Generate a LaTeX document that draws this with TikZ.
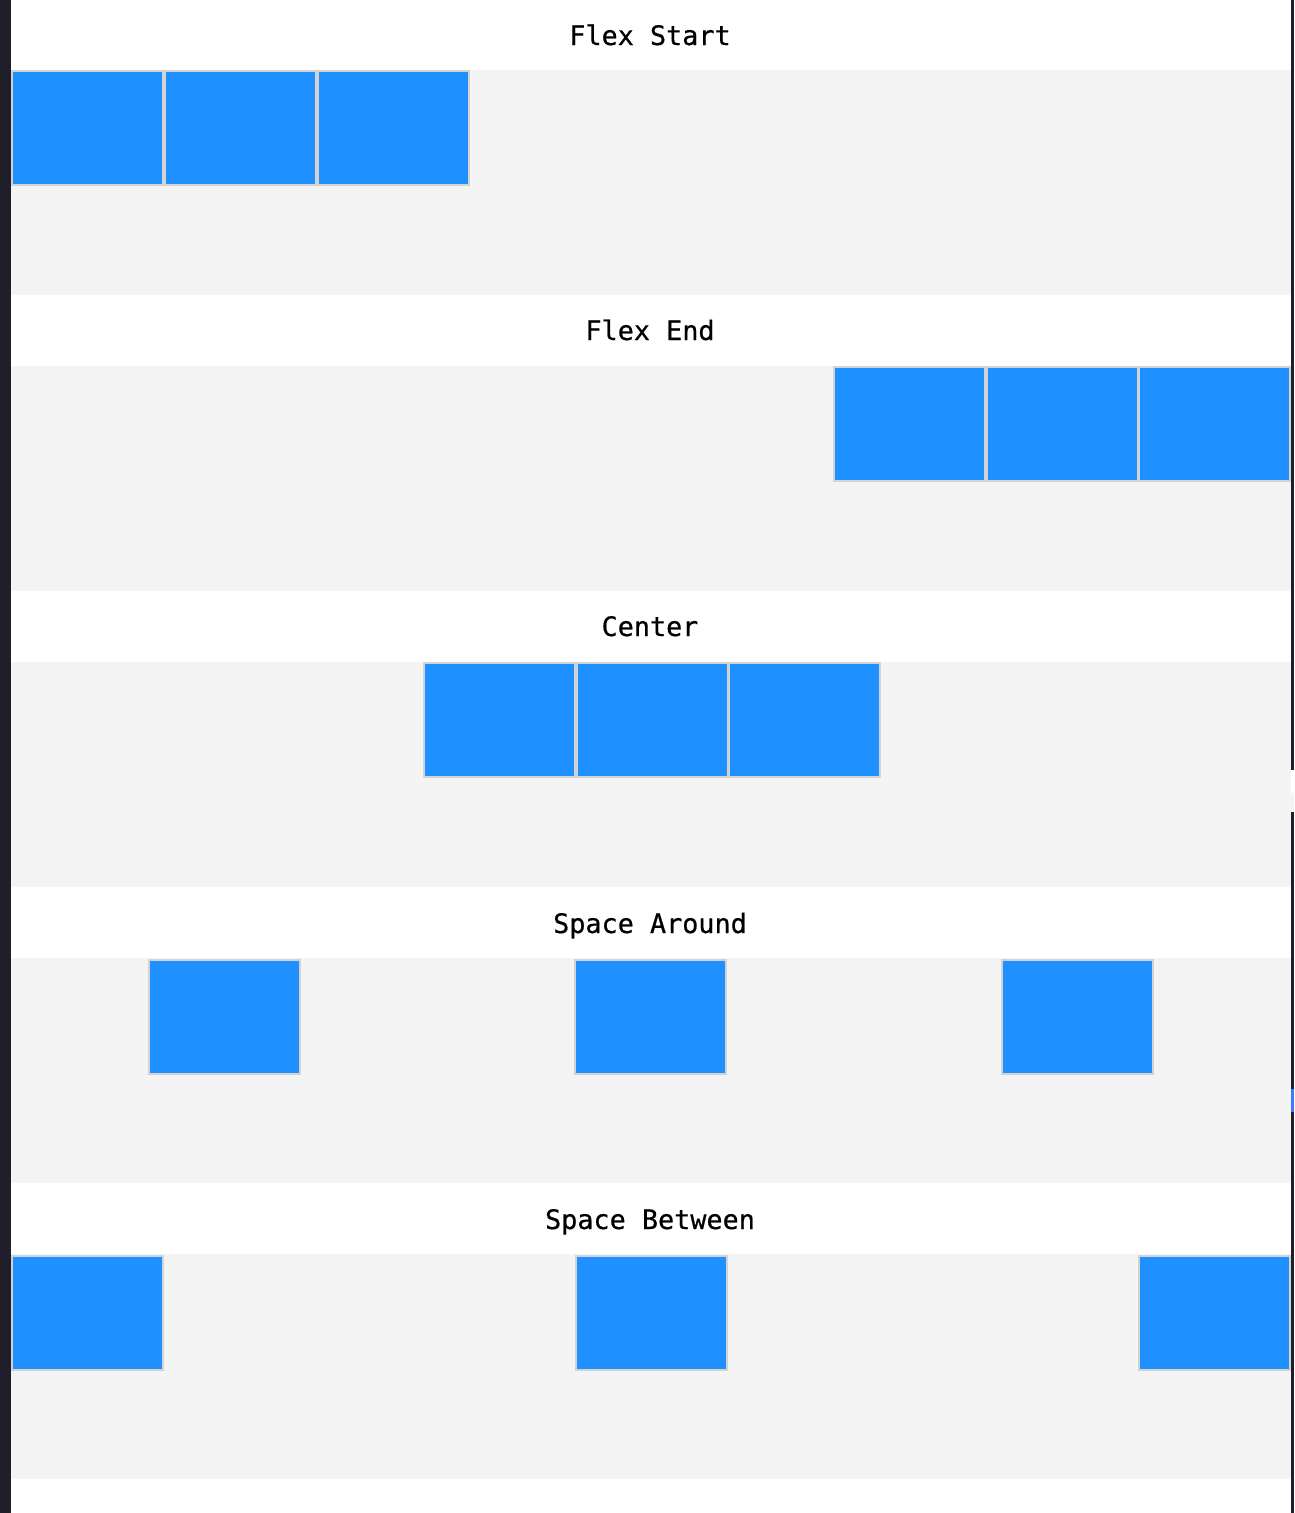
\documentclass[tikz,border=0pt]{standalone}
\usepackage{fontspec}
\setmonofont[FakeBold=0.5]{DejaVu Sans Mono}
\definecolor{barc}{HTML}{201E2B}
\definecolor{panel}{HTML}{F4F4F4}
\definecolor{boxc}{HTML}{1E90FF}
\definecolor{edge}{HTML}{D3D3D3}
\begin{document}
\begin{tikzpicture}[x=1pt,y=-1pt,
  item/.style={draw=edge,line width=2pt,fill=boxc,minimum width=151pt,minimum height=114pt,inner sep=0pt,outer sep=0pt},
  ttl/.style={font=\ttfamily\fontsize{26.8}{30}\selectfont,inner sep=0pt,anchor=base}]
\useasboundingbox (0,0) rectangle (1294,1513);
\fill[white] (0,0) rectangle (1294,1513);
\fill[barc] (0,0) rectangle (11,1513);
\fill[barc] (1291,0) rectangle (1294,1513);
\fill[white] (1291,770) rectangle (1294,793);
\fill[panel] (1291,793) rectangle (1294,812);
\fill[boxc!60!blue!80] (1291,1089) rectangle (1294,1112);
% panels
\foreach \k in {0,...,4}{
  \fill[panel] (11,70+296*\k) rectangle (1291,295+296*\k);
}
% titles
\node[ttl] (t1) at (650,45) {Flex Start};
\node[ttl] (t2) at (650,340) {Flex End};
\node[ttl] (t3) at (650,636) {Center};
\node[ttl] (t4) at (650,933) {Space Around};
\node[ttl] (t5) at (650,1229) {Space Between};
% row 1
\node[item] (a1) at (87.5,128) {};
\node[item] (a2) at (240.5,128) {};
\node[item] (a3) at (393.5,128) {};
% row 2
\node[item] (b1) at (909.5,424) {};
\node[item] (b2) at (1062.5,424) {};
\node[item] (b3) at (1214.5,424) {};
% row 3
\node[item] (c1) at (499.5,720) {};
\node[item] (c2) at (652.5,720) {};
\node[item] (c3) at (804.5,720) {};
% row 4
\node[item] (d1) at (224.5,1016.5) {};
\node[item] (d2) at (650.5,1016.5) {};
\node[item] (d3) at (1077.5,1016.5) {};
% row 5
\node[item] (e1) at (87.5,1312.5) {};
\node[item] (e2) at (651.5,1312.5) {};
\node[item] (e3) at (1214.5,1312.5) {};
\end{tikzpicture}
\end{document}
